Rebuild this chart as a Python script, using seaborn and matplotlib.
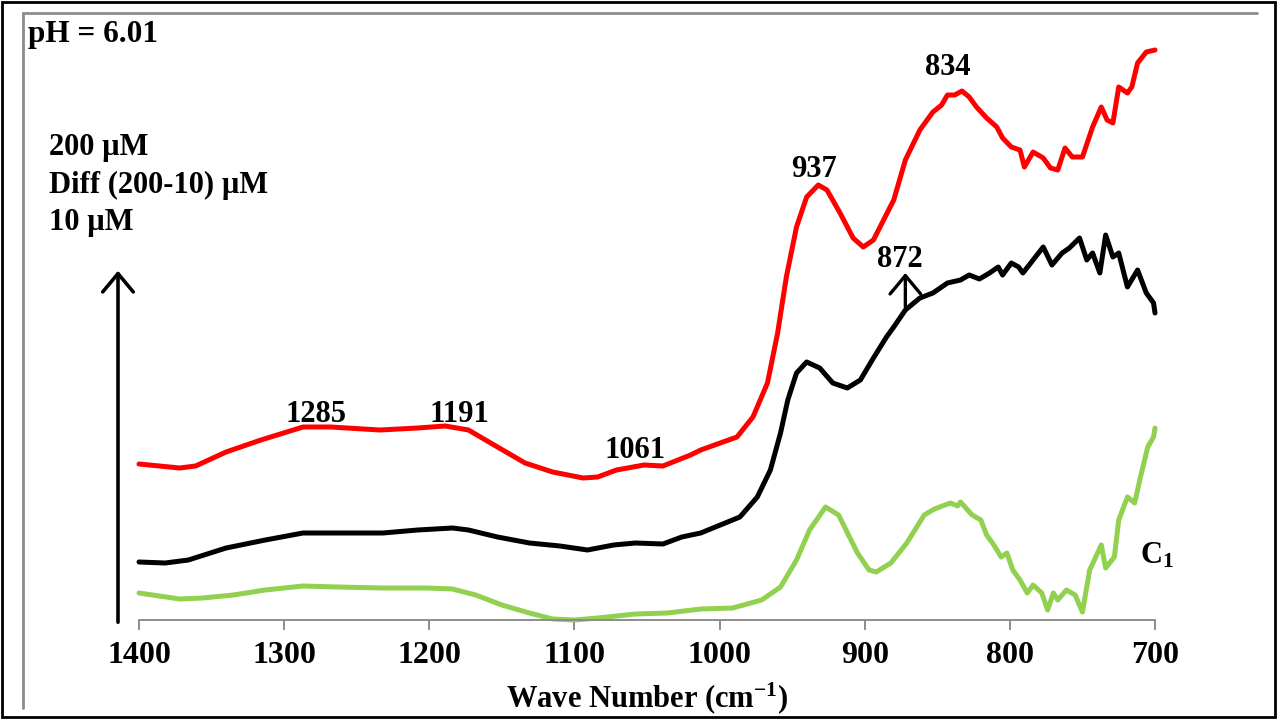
import matplotlib
matplotlib.use("Agg")
import matplotlib.pyplot as plt
import seaborn as sns
from matplotlib.lines import Line2D
from matplotlib.patches import FancyArrowPatch, Rectangle

# FTIR spectra, pH 6.01 (arbitrary absorbance units, stacked)
red_wn = [1400, 1372, 1361, 1340, 1316, 1287, 1268, 1234, 1208, 1189,
          1173, 1153, 1134, 1115, 1094, 1084, 1071, 1052, 1039, 1020,
          1013, 988, 977, 967, 960, 954, 947, 940, 932, 926,
          917, 908, 901, 894, 887, 880, 872, 862, 853, 847,
          843, 838, 833, 828, 823, 816, 809, 805, 799, 793,
          790, 784, 777, 772, 767, 762, 757, 750, 743, 737,
          733, 729, 725, 719, 716, 712, 706, 700]
red_y = [1.56, 1.52, 1.54, 1.68, 1.80, 1.93, 1.93, 1.90, 1.92, 1.94,
         1.90, 1.73, 1.57, 1.48, 1.42, 1.43, 1.50, 1.55, 1.54, 1.65,
         1.70, 1.83, 2.03, 2.37, 2.87, 3.43, 3.93, 4.23, 4.35, 4.30,
         4.07, 3.82, 3.73, 3.80, 4.00, 4.20, 4.60, 4.90, 5.08, 5.15,
         5.25, 5.25, 5.29, 5.23, 5.13, 5.02, 4.93, 4.82, 4.73, 4.70,
         4.53, 4.68, 4.62, 4.52, 4.50, 4.72, 4.63, 4.63, 4.93, 5.13,
         5.00, 4.97, 5.33, 5.27, 5.33, 5.57, 5.68, 5.70]

black_wn = [1400, 1382, 1366, 1340, 1313, 1287, 1258, 1232, 1208, 1184,
            1173, 1153, 1131, 1110, 1091, 1073, 1058, 1039, 1026, 1013,
            986, 974, 965, 958, 953, 947, 940, 931, 922, 912,
            903, 894, 885, 880, 872, 862, 853, 843, 834, 828,
            821, 814, 808, 805, 799, 794, 791, 784, 777, 771,
            764, 759, 752, 747, 743, 738, 734, 729, 725, 719,
            712, 706, 701, 700]
black_y = [0.58, 0.57, 0.60, 0.72, 0.80, 0.87, 0.87, 0.87, 0.90, 0.92,
           0.90, 0.83, 0.77, 0.74, 0.70, 0.75, 0.77, 0.76, 0.83, 0.87,
           1.03, 1.23, 1.50, 1.87, 2.20, 2.47, 2.58, 2.52, 2.37, 2.32,
           2.40, 2.62, 2.83, 2.93, 3.10, 3.22, 3.27, 3.37, 3.40, 3.45,
           3.41, 3.47, 3.53, 3.45, 3.57, 3.53, 3.47, 3.60, 3.73, 3.55,
           3.67, 3.72, 3.82, 3.60, 3.67, 3.47, 3.85, 3.63, 3.67, 3.33,
           3.50, 3.27, 3.17, 3.07]

green_wn = [1400, 1372, 1356, 1335, 1313, 1287, 1263, 1232, 1202, 1184,
            1168, 1150, 1131, 1115, 1100, 1084, 1058, 1036, 1013, 991,
            971, 958, 947, 938, 927, 918, 905, 897, 892, 882,
            871, 859, 852, 841, 836, 834, 826, 820, 816, 811,
            806, 802, 798, 793, 788, 784, 778, 774, 770, 767,
            761, 755, 750, 745, 737, 734, 728, 725, 719, 714,
            710, 705, 701, 700]
green_y = [0.27, 0.21, 0.22, 0.25, 0.30, 0.34, 0.33, 0.32, 0.32, 0.31,
           0.25, 0.15, 0.07, 0.01, 0.00, 0.02, 0.06, 0.07, 0.11, 0.12,
           0.20, 0.33, 0.60, 0.90, 1.13, 1.05, 0.67, 0.50, 0.48, 0.57,
           0.77, 1.05, 1.11, 1.17, 1.14, 1.18, 1.05, 1.00, 0.85, 0.75,
           0.63, 0.67, 0.50, 0.40, 0.27, 0.35, 0.27, 0.10, 0.27, 0.20,
           0.30, 0.25, 0.08, 0.50, 0.75, 0.52, 0.63, 1.00, 1.23, 1.17,
           1.43, 1.73, 1.83, 1.92]

x_ticks = [1400, 1300, 1200, 1100, 1000, 900, 800, 700]

# peak labels: (text, wavenumber, height)
peak_labels = [("1285", 1278, 1.98), ("1191", 1179, 1.98), ("1061", 1058, 1.62),
               ("937", 935, 4.43), ("834", 843, 5.45), ("872", 876, 3.53)]
legend_lines = ["200 µM", "Diff (200-10) µM", "10 µM"]

sns.set_theme(style="white")
plt.rcParams["font.family"] = ["Liberation Serif", "DejaVu Serif"]
plt.rcParams["font.weight"] = "bold"
plt.rcParams["text.color"] = "black"
plt.rcParams["axes.labelcolor"] = "black"
plt.rcParams["xtick.labelcolor"] = "black"
plt.rcParams["mathtext.fontset"] = "custom"
plt.rcParams["mathtext.rm"] = "Liberation Serif:bold"
plt.rcParams["mathtext.it"] = "Liberation Serif:bold:italic"
plt.rcParams["mathtext.bf"] = "Liberation Serif:bold"

W, H = 1277, 719
fig = plt.figure(figsize=(W / 100, H / 100), dpi=100)
fig.patch.set_facecolor("white")
ax = fig.add_axes([139 / W, 1 - 620 / H, 1016 / W, 573 / H])

lw = 3.6
for wn, y, col in [(green_wn, green_y, "#92D050"), (black_wn, black_y, "black"),
                   (red_wn, red_y, "#FF0000")]:
    sns.lineplot(x=wn, y=y, ax=ax, color=col, linewidth=lw, sort=False,
                 estimator=None, legend=False)
for line in ax.get_lines():
    line.set_solid_joinstyle("round")
    line.set_clip_on(False)

ax.set_xlim(1400, 700)
ax.set_ylim(0, 5.73)
ax.set_xticks(x_ticks)
ax.set_xticklabels([str(t) for t in x_ticks])
ax.set_yticks([])
ax.set_ylabel("")
for s in ["left", "right", "top"]:
    ax.spines[s].set_visible(False)
ax.spines["bottom"].set_color("#8c8c8c")
ax.spines["bottom"].set_linewidth(1.4)
ax.tick_params(axis="x", direction="out", length=7, width=1.4, color="#8c8c8c",
               pad=8, labelsize=23, labelcolor="black", bottom=True)
for t in ax.get_xticklabels():
    t.set_fontweight("bold")

ax.set_xlabel("Wave Number (cm$^{\\mathrm{-1}}$)", fontsize=22, fontweight="bold",
              va="baseline", color="black")
ax.xaxis.set_label_coords(0.5005, -0.152)

for txt, wn, y in peak_labels:
    ax.text(wn, y, txt, ha="center", va="baseline", fontsize=22, fontweight="bold")
ax.text(710, 0.57, "C$_{\\mathrm{1}}$", ha="left", va="baseline", fontsize=22,
        fontweight="bold")

ax.annotate("", xy=(872, 3.47), xytext=(872, 3.13),
            arrowprops=dict(arrowstyle="->,head_length=0.6,head_width=0.5",
                            lw=2.4, color="black", shrinkA=0, shrinkB=0,
                            mutation_scale=22))

# figure-level decorations
fig.text(28 / W, 1 - 42 / H, "pH = 6.01", fontsize=22.5, fontweight="bold", va="baseline")
for i, s in enumerate(legend_lines):
    fig.text(49 / W, 1 - (155 + 37.5 * i) / H, s, fontsize=22, fontweight="bold",
             va="baseline")
fig.add_artist(FancyArrowPatch((118 / W, 1 - 625 / H), (118 / W, 1 - 268 / H),
                               transform=fig.transFigure,
                               arrowstyle="->,head_length=0.6,head_width=0.5",
                               mutation_scale=22, lw=2.6, color="black"))

fig.add_artist(Line2D([23 / W, 1257 / W], [1 - 13 / H, 1 - 13 / H],
                      transform=fig.transFigure, color="#8c8c8c", lw=2))
fig.add_artist(Line2D([23 / W, 23 / W], [1 - 13 / H, 1 - 708 / H],
                      transform=fig.transFigure, color="#8c8c8c", lw=2))
fig.add_artist(Rectangle((2 / W, 2 / H), 1 - 4 / W, 1 - 4 / H, transform=fig.transFigure,
                         fill=False, edgecolor="black", lw=2))

fig.savefig("out.png", dpi=100)
plt.close(fig)
